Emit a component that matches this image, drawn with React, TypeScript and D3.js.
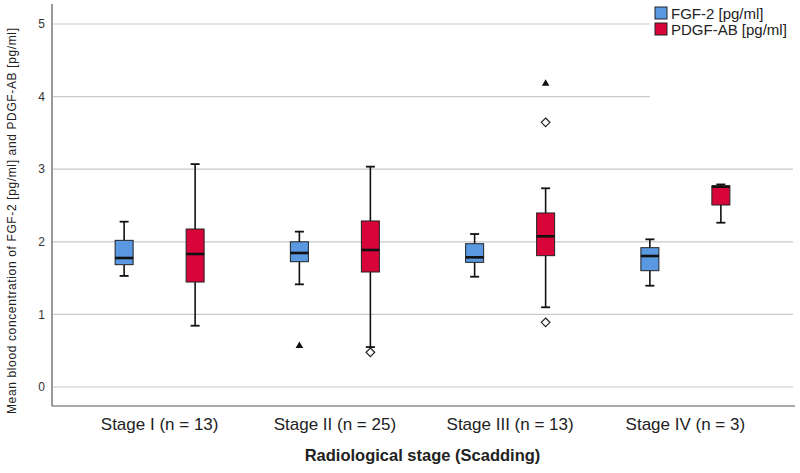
import React from "react";
import * as d3 from "d3";

const categories = ["Stage I (n = 13)", "Stage II (n = 25)", "Stage III (n = 13)", "Stage IV (n = 3)"];
const seriesNames = ["FGF-2 [pg/ml]", "PDGF-AB [pg/ml]"];
const seriesColors = ["#5A99E2", "#D7053A"];
// [min, q1, median, q3, max]
const fgf2Boxes = [
  [1.53, 1.685, 1.777, 2.02, 2.277],
  [1.414, 1.726, 1.846, 2.0, 2.14],
  [1.519, 1.717, 1.786, 1.974, 2.107],
  [1.395, 1.602, 1.804, 1.919, 2.034],
];
const pdgfBoxes = [
  [0.844, 1.446, 1.832, 2.176, 3.07],
  [0.55, 1.584, 1.887, 2.287, 3.035],
  [1.098, 1.809, 2.076, 2.397, 2.737],
  [2.263, 2.507, 2.76, 2.77, 2.79],
];
const outlierCategory = [1, 1, 2, 2, 2];
const outlierSeries = [0, 1, 1, 1, 1];
const outlierValues = [0.58, 0.478, 4.19, 3.646, 0.891];
const outlierShape = ["triangle", "diamond", "triangle", "diamond", "diamond"];
const yTicks = [0, 1, 2, 3, 4, 5];
const xTitle = "Radiological stage (Scadding)";
const yTitle = "Mean blood concentration of FGF-2 [pg/ml] and PDGF-AB [pg/ml]";

export default function App() {
  const y = d3.scaleLinear().domain([0, 5]).range([387, 24]);
  const x = d3.scaleBand<string>().domain(categories).range([72, 773]).padding(0);
  const xs = d3.scalePoint<string>().domain(seriesNames).range([-35.5, 35.5]);
  const boxW = 18;
  const capW = 9;
  const font = "'Liberation Sans', Arial, sans-serif";
  const allBoxes = [fgf2Boxes, pdgfBoxes];

  const cx = (ci: number, si: number) => (x(categories[ci]) as number) + x.bandwidth() / 2 + (xs(seriesNames[si]) as number);

  return (
    <svg width={800} height={473} style={{ position: "absolute", left: 0, top: 0, background: "#fff" }} fontFamily={font}>
      <rect x={0} y={0} width={800} height={473} fill="#fff" />
      {yTicks.map((t) => (
        <g key={"g" + t}>
          <line x1={53} x2={t >= 4 ? 650 : 793} y1={y(t)} y2={y(t)} stroke="#c9c9c9" strokeWidth={1.2} />
          <text x={45} y={y(t)} dy="0.35em" textAnchor="end" fontSize={12} fill="#333">{t}</text>
        </g>
      ))}
      <line x1={52} x2={52} y1={4} y2={406} stroke="#555" strokeWidth={1.2} />
      <line x1={52} x2={795} y1={406} y2={406} stroke="#555" strokeWidth={1.2} />
      {allBoxes.map((boxes, si) =>
        boxes.map((b, ci) => {
          const c = cx(ci, si);
          const [mn, q1, md, q3, mx] = b;
          return (
            <g key={`b${si}-${ci}`}>
              <line x1={c} x2={c} y1={y(mx)} y2={y(q3)} stroke="#111" strokeWidth={1.6} />
              <line x1={c} x2={c} y1={y(q1)} y2={y(mn)} stroke="#111" strokeWidth={1.6} />
              <line x1={c - capW / 2} x2={c + capW / 2} y1={y(mx)} y2={y(mx)} stroke="#111" strokeWidth={1.8} />
              <line x1={c - capW / 2} x2={c + capW / 2} y1={y(mn)} y2={y(mn)} stroke="#111" strokeWidth={1.8} />
              <rect x={c - boxW / 2} y={y(q3)} width={boxW} height={y(q1) - y(q3)} fill={seriesColors[si]} stroke="#222" strokeWidth={1} />
              <line x1={c - boxW / 2} x2={c + boxW / 2} y1={y(md)} y2={y(md)} stroke="#111" strokeWidth={2.6} />
            </g>
          );
        })
      )}
      {outlierValues.map((v, i) => {
        const c = cx(outlierCategory[i], outlierSeries[i]);
        const py = y(v);
        if (outlierShape[i] === "triangle") {
          const p = d3.path();
          p.moveTo(c, py - 3.5);
          p.lineTo(c + 3.8, py + 3);
          p.lineTo(c - 3.8, py + 3);
          p.closePath();
          return <path key={"o" + i} d={p.toString()} fill="#111" />;
        }
        const p = d3.path();
        p.moveTo(c, py - 4.3);
        p.lineTo(c + 4.3, py);
        p.lineTo(c, py + 4.3);
        p.lineTo(c - 4.3, py);
        p.closePath();
        return <path key={"o" + i} d={p.toString()} fill="#fff" stroke="#222" strokeWidth={1.2} />;
      })}
      {categories.map((c) => (
        <text key={c} x={(x(c) as number) + x.bandwidth() / 2} y={430} textAnchor="middle" fontSize={17} fill="#222">{c}</text>
      ))}
      <text x={422.5} y={461} textAnchor="middle" fontSize={16.5} fontWeight="bold" fill="#222">{xTitle}</text>
      <text transform={`translate(15.5,221) rotate(-90)`} textAnchor="middle" fontSize={12} textLength={386} lengthAdjust="spacing" fill="#222">{yTitle}</text>
      {seriesNames.map((s, i) => (
        <g key={s}>
          <rect x={655} y={7 + i * 16} width={12} height={12} fill={seriesColors[i]} stroke="#222" strokeWidth={1} />
          <text x={671} y={18.5 + i * 16} fontSize={15} fill="#222">{s}</text>
        </g>
      ))}
    </svg>
  );
}
